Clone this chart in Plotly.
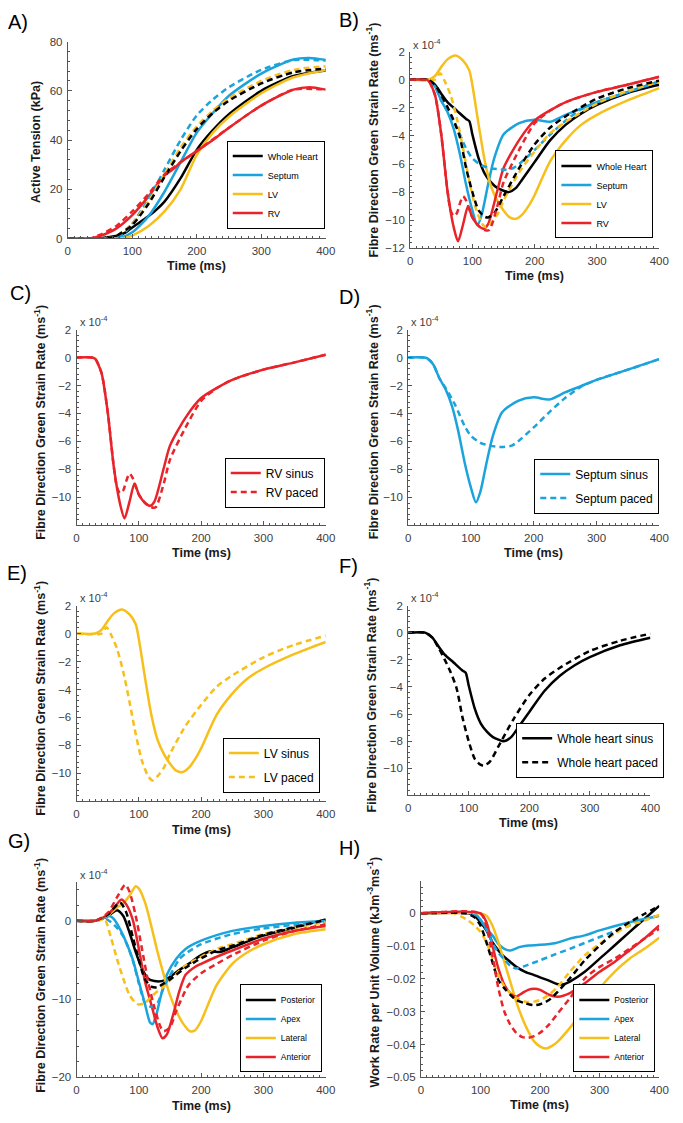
import plotly.graph_objects as go

W, H = 683, 1123

BLACK = "#000000"
BLUE = "#1BA3DC"
YELLOW = "#F7BF1A"
RED = "#E8242A"

# ---------------- Panel A: Active tension (kPa) ----------------
A_wh_sinus_t = [0, 50, 60, 75, 90, 100, 125, 150, 175, 200, 225, 250, 300, 350, 400]
A_wh_sinus_v = [0, 0, 0.5, 1.0, 2.5, 4.5, 9, 15, 24.5, 36, 44, 50.5, 60, 66, 68.3]
A_wh_paced_t = [0, 60, 75, 100, 125, 150, 175, 200, 225, 250, 300, 350, 400]
A_wh_paced_v = [0, 0, 1, 5.5, 14, 25, 35.5, 44.5, 51, 56, 63, 67.5, 69]
A_sep_sinus_t = [0, 70, 85, 100, 125, 150, 175, 200, 225, 250, 300, 350, 375, 400]
A_sep_sinus_v = [0, 0, 0.5, 2.5, 9, 19, 31, 43, 51, 58, 67, 72.7, 73.3, 72.5]
A_sep_paced_t = [0, 70, 85, 100, 125, 150, 175, 200, 225, 250, 300, 350, 400]
A_sep_paced_v = [0, 0, 1.5, 6, 16, 28, 40, 50, 56.5, 61.5, 68.5, 72.5, 72.3]
A_lv_sinus_t = [0, 80, 90, 100, 125, 150, 175, 200, 225, 250, 300, 350, 400]
A_lv_sinus_v = [0, 0, 0.3, 1.2, 5, 11, 20, 34, 43, 49.5, 59, 65.5, 68.5]
A_lv_paced_t = [0, 60, 75, 100, 125, 150, 175, 200, 225, 250, 300, 350, 400]
A_lv_paced_v = [0, 0, 1, 6, 15, 26, 37, 45.5, 52, 57, 64, 68.5, 70]
A_rv_sinus_t = [0, 35, 50, 75, 100, 125, 150, 165, 175, 200, 225, 250, 300, 350, 375, 400]
A_rv_sinus_v = [0, 0, 1, 4, 9.5, 17, 25.5, 28.5, 31, 35.5, 40, 45, 54, 60.5, 61.5, 60.5]
A_rv_paced_t = [0, 35, 50, 75, 100, 125, 150, 175, 200, 250, 300, 350, 400]
A_rv_paced_v = [0, 0, 1.5, 5, 11, 18, 26, 31, 35.5, 45, 54, 60.5, 60.5]

# ---------------- Strain rate (x 1e-4 ms^-1), panels B-F ----------------
rv_sinus_t = [0, 25, 30, 40, 50, 60, 70, 77, 85, 93, 100, 110, 118, 125, 140, 150, 175, 200, 250, 300, 350, 400]
rv_sinus_v = [0, 0, -0.1, -1.1, -3.9, -7.9, -10.5, -11.5, -10.3, -9.0, -9.8, -10.4, -10.6, -10.3, -7.9, -6.3, -4.3, -2.9, -1.6, -0.87, -0.35, 0.2]
rv_paced_t = [0, 25, 30, 40, 50, 60, 65, 70, 75, 80, 85, 90, 100, 110, 120, 127, 140, 150, 175, 200, 225, 250, 300, 350, 400]
rv_paced_v = [0, 0, -0.1, -1.1, -3.9, -7.9, -9.3, -9.7, -9.5, -8.8, -8.3, -8.6, -9.8, -10.4, -10.7, -10.7, -9.0, -7.3, -5.0, -3.1, -2.2, -1.6, -0.87, -0.35, 0.2]
sep_sinus_t = [0, 25, 30, 40, 50, 60, 70, 80, 90, 100, 108, 115, 125, 135, 150, 175, 200, 225, 250, 275, 300, 350, 400]
sep_sinus_v = [0, 0, -0.05, -0.5, -1.5, -2.3, -3.5, -5.3, -7.5, -9.3, -10.35, -9.6, -7.5, -5.6, -3.9, -3.1, -2.85, -3.0, -2.5, -2.05, -1.6, -0.87, -0.12]
sep_paced_t = [0, 25, 30, 40, 50, 60, 75, 90, 100, 115, 130, 150, 165, 175, 200, 225, 250, 275, 300, 350, 400]
sep_paced_v = [0, 0, -0.05, -0.5, -1.5, -2.2, -3.4, -4.9, -5.6, -6.1, -6.3, -6.4, -6.3, -6.0, -5.0, -3.9, -2.9, -2.1, -1.6, -0.87, -0.12]
lv_sinus_t = [0, 30, 40, 50, 60, 73, 85, 95, 100, 110, 120, 130, 140, 150, 160, 170, 180, 190, 200, 225, 250, 275, 300, 350, 400]
lv_sinus_v = [0, 0, 0.26, 0.9, 1.44, 1.72, 1.36, 0.66, -0.4, -3.2, -5.8, -7.6, -8.6, -9.3, -9.8, -9.9, -9.6, -9.0, -8.2, -5.8, -4.3, -3.2, -2.5, -1.46, -0.6]
lv_paced_t = [0, 40, 48, 55, 65, 75, 85, 95, 105, 115, 122, 130, 140, 150, 175, 200, 225, 250, 300, 350, 400]
lv_paced_v = [0, 0, 0.45, -0.05, -1.1, -2.75, -4.9, -7.2, -9.1, -10.2, -10.5, -10.2, -9.6, -8.6, -6.6, -5.1, -3.8, -3.0, -1.7, -0.8, -0.16]
wh_sinus_t = [0, 28, 40, 50, 60, 75, 90, 95, 100, 110, 120, 130, 140, 150, 158, 170, 180, 200, 225, 250, 275, 300, 350, 400]
wh_sinus_v = [0, 0, -0.37, -1.0, -1.6, -2.2, -2.8, -2.95, -3.9, -5.6, -6.7, -7.3, -7.7, -7.9, -8.0, -7.7, -7.1, -5.85, -4.3, -3.2, -2.4, -1.8, -0.93, -0.37]
wh_paced_t = [0, 28, 40, 50, 60, 70, 80, 90, 100, 110, 120, 125, 135, 150, 175, 200, 225, 250, 300, 350, 400]
wh_paced_v = [0, 0, -0.37, -1.1, -1.95, -2.9, -4.1, -6.3, -8.0, -9.3, -9.75, -9.8, -9.5, -8.3, -6.3, -4.6, -3.4, -2.6, -1.35, -0.6, -0.07]

# ---------------- Panel G: regional strain rate (x 1e-4) ----------------
G_post_sinus_t = [0, 30, 50, 65, 75, 85, 95, 105, 115, 125, 140, 150, 165, 180, 200, 215, 230, 250, 300, 350, 400]
G_post_sinus_v = [0, 0, 0.6, 1.35, 0.6, -1.5, -4.0, -6.1, -7.4, -7.7, -7.65, -7.15, -6.3, -5.5, -4.4, -3.9, -4.0, -3.4, -1.9, -0.9, 0.17]
G_post_paced_t = [0, 30, 50, 70, 80, 90, 100, 110, 120, 130, 140, 150, 175, 200, 225, 250, 300, 350, 400]
G_post_paced_v = [0, 0, 0.8, 2.3, 1.0, -2.0, -5.0, -7.5, -8.4, -8.5, -8.0, -7.5, -6.0, -4.8, -3.8, -3.2, -1.8, -0.8, 0.1]
G_apex_sinus_t = [0, 30, 45, 53, 60, 70, 80, 90, 100, 110, 118, 122, 128, 135, 145, 160, 175, 200, 250, 300, 350, 400]
G_apex_sinus_v = [0, 0, 0.4, 0.6, 0.2, -1.1, -2.8, -4.9, -7.8, -10.7, -13.0, -13.2, -12.0, -9.7, -6.9, -4.85, -3.6, -2.55, -1.3, -0.67, -0.25, -0.04]
G_apex_paced_t = [0, 30, 45, 60, 75, 90, 100, 110, 120, 130, 140, 150, 165, 175, 200, 250, 300, 350, 400]
G_apex_paced_v = [0, 0, 0.3, -0.5, -2.0, -5.0, -8.0, -10.5, -11.0, -10.5, -8.5, -7.0, -4.9, -4.2, -3.0, -1.7, -1.0, -0.5, -0.1]
G_lat_sinus_t = [0, 30, 50, 65, 75, 85, 95, 100, 110, 120, 130, 140, 150, 160, 170, 182, 190, 200, 210, 225, 250, 275, 300, 350, 400]
G_lat_sinus_v = [0, 0, 0.7, 1.7, 2.2, 3.2, 4.4, 4.1, 2.3, -0.7, -4.0, -6.9, -9.5, -11.5, -13.0, -14.1, -14.0, -12.8, -10.9, -8.2, -5.5, -4.0, -3.0, -1.7, -1.1]
G_lat_paced_t = [0, 35, 45, 55, 65, 75, 85, 95, 100, 110, 120, 130, 140, 150, 175, 200, 225, 250, 300, 350, 400]
G_lat_paced_v = [0, 0, 0.2, -2.1, -4.9, -7.4, -9.5, -10.5, -10.7, -10.5, -9.7, -9.0, -8.4, -7.6, -5.7, -4.6, -3.6, -3.0, -1.7, -0.9, -0.17]
G_ant_sinus_t = [0, 30, 50, 60, 72, 80, 90, 100, 110, 120, 130, 138, 145, 155, 165, 175, 190, 200, 225, 250, 300, 350, 400]
G_ant_sinus_v = [0, 0, 0.8, 1.6, 2.7, 2.05, 0.17, -3.6, -7.8, -10.7, -13.6, -15.0, -14.5, -12.0, -9.0, -6.9, -5.9, -5.5, -4.6, -3.8, -2.3, -1.3, -0.67]
G_ant_paced_t = [0, 30, 50, 65, 78, 85, 95, 105, 115, 125, 135, 140, 150, 160, 170, 180, 200, 225, 250, 300, 350, 400]
G_ant_paced_v = [0, 0, 1.0, 3.0, 4.6, 3.7, 0.6, -3.6, -7.8, -11.1, -13.6, -14.1, -13.6, -11.5, -9.7, -8.2, -6.7, -5.5, -4.4, -2.55, -1.3, -0.46]

# ---------------- Panel H: work rate per unit volume ----------------
H_post_sinus_t = [0, 80, 90, 100, 110, 120, 130, 140, 150, 160, 175, 190, 200, 215, 230, 240, 250, 275, 300, 325, 350, 375, 400]
H_post_sinus_v = [0, 0, -0.0007, -0.0027, -0.0052, -0.0088, -0.0113, -0.0133, -0.0148, -0.0163, -0.0178, -0.0188, -0.0195, -0.0205, -0.0216, -0.0216, -0.0208, -0.0178, -0.0138, -0.0098, -0.0057, -0.0017, 0.0023]
H_post_paced_t = [0, 75, 90, 100, 110, 120, 130, 140, 150, 160, 175, 190, 200, 215, 230, 250, 275, 300, 325, 350, 375, 400]
H_post_paced_v = [0, 0, -0.0012, -0.0037, -0.0088, -0.0148, -0.0203, -0.0228, -0.0248, -0.0264, -0.0274, -0.028, -0.0277, -0.0264, -0.0238, -0.0198, -0.0143, -0.0098, -0.0057, -0.0027, -0.0002, 0.0023]
H_apex_sinus_t = [0, 90, 100, 110, 120, 130, 140, 150, 165, 180, 200, 225, 250, 275, 300, 350, 400]
H_apex_sinus_v = [0, 0, -0.002, -0.0047, -0.0067, -0.0093, -0.0108, -0.0113, -0.0103, -0.0098, -0.0096, -0.0091, -0.0077, -0.0067, -0.0052, -0.0027, -0.0007]
H_apex_paced_t = [0, 80, 100, 110, 120, 130, 140, 150, 160, 175, 200, 225, 250, 275, 300, 350, 375, 400]
H_apex_paced_v = [0, 0, -0.002, -0.005, -0.009, -0.012, -0.014, -0.016, -0.0168, -0.016, -0.0143, -0.0125, -0.0108, -0.009, -0.0072, -0.0037, -0.002, -0.0007]
H_lat_sinus_t = [0, 100, 110, 120, 130, 140, 150, 160, 170, 180, 190, 200, 210, 220, 230, 250, 275, 300, 325, 350, 375, 400]
H_lat_sinus_v = [0, 0, -0.0007, -0.0037, -0.0088, -0.0148, -0.0208, -0.0269, -0.0319, -0.0359, -0.039, -0.0406, -0.0412, -0.0404, -0.039, -0.0349, -0.0289, -0.0228, -0.0178, -0.0138, -0.0108, -0.0074]
H_lat_paced_t = [0, 55, 75, 90, 100, 110, 120, 130, 140, 150, 160, 175, 190, 200, 215, 230, 250, 275, 300, 325, 350, 375, 400]
H_lat_paced_v = [0, 0, -0.0017, -0.0037, -0.0057, -0.0088, -0.0138, -0.0188, -0.0223, -0.0243, -0.0257, -0.0269, -0.0269, -0.0264, -0.0248, -0.0223, -0.0178, -0.0128, -0.0093, -0.0062, -0.0037, -0.0022, -0.0005]
H_ant_sinus_t = [0, 100, 110, 120, 130, 140, 150, 160, 170, 180, 190, 200, 215, 230, 250, 275, 300, 325, 350, 375, 400]
H_ant_sinus_v = [0, 0, -0.0027, -0.0098, -0.0168, -0.0218, -0.0243, -0.0254, -0.0243, -0.0233, -0.023, -0.0233, -0.0248, -0.0254, -0.0243, -0.0213, -0.0178, -0.0148, -0.0113, -0.0077, -0.0037]
H_ant_paced_t = [0, 100, 110, 120, 130, 140, 150, 160, 170, 180, 190, 200, 215, 230, 250, 275, 300, 325, 350, 375, 400]
H_ant_paced_v = [0, 0, -0.004, -0.0128, -0.0228, -0.0299, -0.0339, -0.0364, -0.0377, -0.0379, -0.0374, -0.0364, -0.0339, -0.0304, -0.0259, -0.0198, -0.0163, -0.0138, -0.0108, -0.0077, -0.0047]

# tick labels
time_ticks = [0, 100, 200, 300, 400]
A_yticks = [0, 20, 40, 60, 80]
B_yticks = [-12, -10, -8, -6, -4, -2, 0, 2]
CF_yticks = [-10, -8, -6, -4, -2, 0, 2]
G_yticks = [-20, -10, 0]
H_yticks = [-0.05, -0.04, -0.03, -0.02, -0.01, 0]


def fx(x):
    return x / W


def fy(y):
    return 1 - y / H


# ---------------- layout geometry (pixels) ----------------
# panel: (left, right, top, bottom)
geom = {
    1: (66, 329, 36, 235),
    2: (415, 669, 46, 245),
    3: (75, 329, 327, 525),
    4: (413, 669, 327, 525),
    5: (75, 329, 606, 804),
    6: (413, 660, 606, 798),
    7: (75, 329, 885, 1083),
    8: (426, 669, 884, 1083),
}

fig = go.Figure()


def add(i, t, v, color, dash, name, show):
    suffix = "" if i == 1 else str(i)
    fig.add_trace(go.Scatter(
        x=t, y=v, mode="lines", name=name,
        line=dict(color=color, width=2.5, dash="6px,4px" if dash else "solid",
                  shape="spline", smoothing=0.7),
        xaxis="x" + suffix, yaxis="y" + suffix,
        legend="legend" + suffix, showlegend=show,
        legendgroup=f"g{i}_{name}",
    ))


# Panel A
add(1, A_wh_sinus_t, A_wh_sinus_v, BLACK, False, "Whole Heart", True)
add(1, A_sep_sinus_t, A_sep_sinus_v, BLUE, False, "Septum", True)
add(1, A_lv_sinus_t, A_lv_sinus_v, YELLOW, False, "LV", True)
add(1, A_rv_sinus_t, A_rv_sinus_v, RED, False, "RV", True)
add(1, A_sep_paced_t, A_sep_paced_v, BLUE, True, "Septum paced", False)
add(1, A_lv_paced_t, A_lv_paced_v, YELLOW, True, "LV paced", False)
add(1, A_wh_paced_t, A_wh_paced_v, BLACK, True, "Whole Heart paced", False)
add(1, A_rv_paced_t, A_rv_paced_v, RED, True, "RV paced", False)

# Panel B
add(2, wh_sinus_t, wh_sinus_v, BLACK, False, "Whole Heart", True)
add(2, sep_sinus_t, sep_sinus_v, BLUE, False, "Septum", True)
add(2, lv_sinus_t, lv_sinus_v, YELLOW, False, "LV", True)
add(2, rv_sinus_t, rv_sinus_v, RED, False, "RV", True)
add(2, sep_paced_t, sep_paced_v, BLUE, True, "Septum paced", False)
add(2, lv_paced_t, lv_paced_v, YELLOW, True, "LV paced", False)
add(2, wh_paced_t, wh_paced_v, BLACK, True, "Whole Heart paced", False)
add(2, rv_paced_t, rv_paced_v, RED, True, "RV paced", False)

# Panels C-F
add(3, rv_sinus_t, rv_sinus_v, RED, False, "RV sinus", True)
add(3, rv_paced_t, rv_paced_v, RED, True, "RV paced", True)
add(4, sep_sinus_t, sep_sinus_v, BLUE, False, "Septum sinus", True)
add(4, sep_paced_t, sep_paced_v, BLUE, True, "Septum paced", True)
add(5, lv_sinus_t, lv_sinus_v, YELLOW, False, "LV sinus", True)
add(5, lv_paced_t, lv_paced_v, YELLOW, True, "LV paced", True)
add(6, wh_sinus_t, wh_sinus_v, BLACK, False, "Whole heart sinus", True)
add(6, wh_paced_t, wh_paced_v, BLACK, True, "Whole heart paced", True)

# Panel G
add(7, G_post_sinus_t, G_post_sinus_v, BLACK, False, "Posterior", True)
add(7, G_apex_sinus_t, G_apex_sinus_v, BLUE, False, "Apex", True)
add(7, G_lat_sinus_t, G_lat_sinus_v, YELLOW, False, "Lateral", True)
add(7, G_ant_sinus_t, G_ant_sinus_v, RED, False, "Anterior", True)
add(7, G_apex_paced_t, G_apex_paced_v, BLUE, True, "Apex paced", False)
add(7, G_lat_paced_t, G_lat_paced_v, YELLOW, True, "Lateral paced", False)
add(7, G_post_paced_t, G_post_paced_v, BLACK, True, "Posterior paced", False)
add(7, G_ant_paced_t, G_ant_paced_v, RED, True, "Anterior paced", False)

# Panel H
add(8, H_post_sinus_t, H_post_sinus_v, BLACK, False, "Posterior", True)
add(8, H_apex_sinus_t, H_apex_sinus_v, BLUE, False, "Apex", True)
add(8, H_lat_sinus_t, H_lat_sinus_v, YELLOW, False, "Lateral", True)
add(8, H_ant_sinus_t, H_ant_sinus_v, RED, False, "Anterior", True)
add(8, H_apex_paced_t, H_apex_paced_v, BLUE, True, "Apex paced", False)
add(8, H_lat_paced_t, H_lat_paced_v, YELLOW, True, "Lateral paced", False)
add(8, H_post_paced_t, H_post_paced_v, BLACK, True, "Posterior paced", False)
add(8, H_ant_paced_t, H_ant_paced_v, RED, True, "Anterior paced", False)

AXCOL = "#555555"
TICKFONT = dict(family="Liberation Sans", size=11.5, color="#404040")

yspec = {
    1: ([0, 80], A_yticks, 4),
    2: ([-12, 2], B_yticks, 0.4),
    3: ([-12, 2], CF_yticks, 0.4),
    4: ([-12, 2], CF_yticks, 0.4),
    5: ([-12, 2], CF_yticks, 0.4),
    6: ([-12, 2], CF_yticks, 0.4),
    7: ([-20, 5], G_yticks, 2),
    8: ([-0.05, 0.01], H_yticks, 0.002),
}

layout = {}
for i, (l, r, t, b) in geom.items():
    suffix = "" if i == 1 else str(i)
    yr, yt, ymin = yspec[i]
    layout["xaxis" + suffix] = dict(
        domain=[fx(l), fx(r)], range=[0, 400], anchor="y" + suffix,
        tickmode="array", tickvals=time_ticks, ticks="inside", ticklen=4,
        tickcolor=AXCOL, showline=True, linecolor=AXCOL, linewidth=1,
        showgrid=False, zeroline=False, tickfont=TICKFONT, ticklabelstandoff=2,
        minor=dict(dtick=10, tick0=0, ticks="inside", ticklen=2, tickcolor=AXCOL, showgrid=False),
    )
    layout["yaxis" + suffix] = dict(
        domain=[fy(b), fy(t)], range=yr, anchor="x" + suffix,
        tickmode="array", tickvals=yt, ticks="inside", ticklen=4,
        tickcolor=AXCOL, showline=True, linecolor=AXCOL, linewidth=1,
        showgrid=False, zeroline=False, tickfont=TICKFONT, ticklabelstandoff=2,
        minor=dict(dtick=ymin, tick0=0, ticks="inside", ticklen=2, tickcolor=AXCOL, showgrid=False),
    )

# legends: (right px, bottom px, font size, groupgap)
leg = {
    1: (328, 225, 9, 0),
    2: (663, 235, 9, 0),
    3: (328, 507, 12, 0),
    4: (669, 513, 12, 5),
    5: (323, 795, 12, 5),
    6: (674, 780, 12, 5),
    7: (325, 1078, 8.5, 0),
    8: (665, 1078, 8.5, 0),
}
for i, (r, b, fs, gap) in leg.items():
    key = "legend" if i == 1 else "legend" + str(i)
    layout[key] = dict(
        x=fx(r), y=fy(b), xanchor="right", yanchor="bottom",
        xref="paper", yref="paper",
        bgcolor="white", bordercolor="black", borderwidth=1,
        font=dict(family="Liberation Sans", size=fs, color="black"),
        tracegroupgap=gap, itemclick=False, itemdoubleclick=False,
    )

ann = []
# panel letters (left edge, vertical centre)
letters = {"A)": (3, 16), "B)": (340, 14), "C)": (5, 290), "D)": (340, 294),
           "E)": (2, 573), "F)": (340, 566), "G)": (3, 844), "H)": (340, 851)}
for txt, (x, y) in letters.items():
    ann.append(dict(text=txt, x=fx(x), y=fy(y), xref="paper", yref="paper",
                    showarrow=False, xanchor="left", yanchor="middle",
                    font=dict(family="Liberation Sans", size=20, color="black")))

TITLEFONT = dict(family="Liberation Sans", size=12.5, color="#1a1a1a")
strain_title = "<b>Fibre Direction Green Strain Rate (ms<sup>-1</sup>)</b>"
ytitles = {
    1: ("<b>Active Tension (kPa)</b>", 33, 137),
    2: (strain_title, 376, 135),
    3: (strain_title, 37, 421),
    4: (strain_title, 376, 420),
    5: (strain_title, 37, 700),
    6: (strain_title, 374, 696),
    7: (strain_title, 37, 980),
    8: ("<b>Work Rate per Unit Volume (kJm<sup>-3</sup>ms<sup>-1</sup>)</b>", 377, 977),
}
for i, (txt, x, y) in ytitles.items():
    ann.append(dict(text=txt, x=fx(x), y=fy(y), xref="paper", yref="paper",
                    showarrow=False, textangle=-90, xanchor="center", yanchor="middle",
                    font=TITLEFONT))

xtitles = {1: (197, 263), 2: (542, 273), 3: (202, 553), 4: (541, 553),
           5: (202, 833), 6: (536, 826), 7: (202, 1112), 8: (547, 1111)}
for i, (x, y) in xtitles.items():
    ann.append(dict(text="<b>Time (ms)</b>", x=fx(x), y=fy(y), xref="paper", yref="paper",
                    showarrow=False, xanchor="center", yanchor="middle", font=TITLEFONT))

exps = {2: (416, 38), 3: (76, 318), 4: (414, 318), 5: (76, 597), 6: (414, 597), 7: (76, 877)}
for i, (x, y) in exps.items():
    ann.append(dict(text="x 10<sup>-4</sup>", x=fx(x), y=fy(y), xref="paper", yref="paper",
                    showarrow=False, xanchor="left", yanchor="middle",
                    font=dict(family="Liberation Sans", size=11, color="#404040")))

fig.update_layout(
    width=W, height=H, margin=dict(l=0, r=0, t=0, b=0),
    paper_bgcolor="white", plot_bgcolor="white",
    annotations=ann, **layout,
)

# remove the default page margin so the 683x1123 figure fills the window exactly
fig.write_html(
    "out.html",
    config={"displayModeBar": False},
    post_script="document.body.style.margin='0';document.documentElement.style.overflow='hidden';",
)
